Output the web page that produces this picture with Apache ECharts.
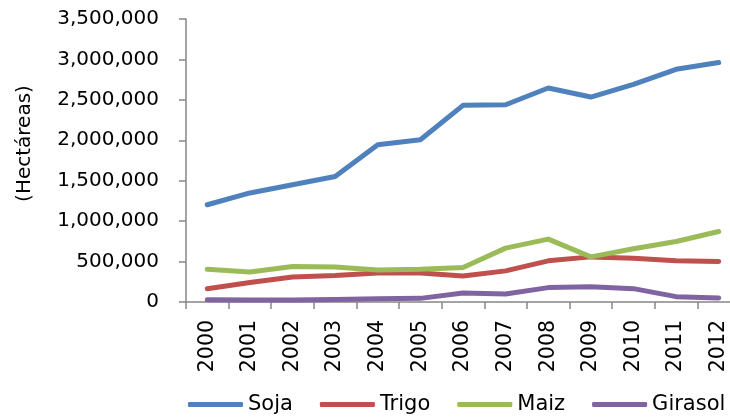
<!DOCTYPE html>
<html>
<head>
<meta charset="utf-8">
<script src="https://cdn.jsdelivr.net/npm/echarts@6/dist/echarts.min.js"></script>
<style>
  html, body { margin: 0; padding: 0; background: #fff; overflow: hidden; }
  /* un poco más ancho que la ventana: el área de trazado se corta por la derecha, como en el original */
  #chart { width: 752px; height: 418px; }
</style>
</head>
<body>
<div id="chart"></div>
<script>
// años
var years = ['2000','2001','2002','2003','2004','2005','2006','2007','2008','2009','2010','2011','2012'];

// superficie sembrada (hectáreas)
var soja    = [1203000, 1349000, 1450000, 1552000, 1944000, 2006000, 2432000, 2440000, 2647000, 2535000, 2692000, 2878000, 2961000];
var trigo   = [165000, 240000, 310000, 327000, 360000, 360000, 322000, 385000, 509000, 558000, 542000, 509000, 500000];
var maiz    = [405000, 372000, 438000, 434000, 397000, 405000, 426000, 666000, 778000, 558000, 658000, 748000, 872000];
var girasol = [29000, 25000, 25000, 30000, 40000, 45000, 112000, 99000, 178000, 190000, 165000, 66000, 50000];

var seriesNames = ['Soja', 'Trigo', 'Maiz', 'Girasol'];
var seriesData = [soja, trigo, maiz, girasol];
var colors = ['#4F81BD', '#C0504D', '#9BBB59', '#8064A2'];

var font = 'DejaVu Sans';
var chart = echarts.init(document.getElementById('chart'));

var option = {
    animation: false,
    color: colors,
    grid: { left: 186, right: 12, top: 19, bottom: 116 },
    legend: {
        top: 389,
        left: 183,
        icon: 'roundRect',
        itemWidth: 55,
        itemHeight: 5,
        itemGap: 27,
        textStyle: { fontFamily: font, fontSize: 21, color: '#000' },
        data: seriesNames
    },
    xAxis: {
        type: 'category',
        data: years,
        boundaryGap: true,
        axisLine: { lineStyle: { color: '#868686', width: 1.5 } },
        axisTick: { show: true, length: 7, lineStyle: { color: '#868686', width: 1.5 } },
        axisLabel: { rotate: 90, fontFamily: font, fontSize: 20.5, color: '#000', margin: 18 }
    },
    yAxis: {
        type: 'value',
        min: 0,
        max: 3500000,
        interval: 500000,
        name: '(Hectáreas)',
        nameLocation: 'middle',
        nameGap: 151,
        nameTextStyle: { fontFamily: font, fontSize: 20, color: '#000', padding: [0, 0, 0, 34] },
        axisLine: { show: true, lineStyle: { color: '#868686', width: 1.5 } },
        axisTick: { show: true, length: 7, lineStyle: { color: '#868686', width: 1.5 } },
        splitLine: { show: false },
        axisLabel: {
            fontFamily: font, fontSize: 20, color: '#000', margin: 27,
            formatter: function (v) { return v.toLocaleString('en-US'); }
        }
    },
    series: seriesNames.map(function (n, i) {
        return {
            name: n,
            type: 'line',
            data: seriesData[i],
            symbol: 'none',
            lineStyle: { width: 5, color: colors[i], cap: 'round', join: 'round' }
        };
    })
};

chart.setOption(option);
</script>
</body>
</html>
